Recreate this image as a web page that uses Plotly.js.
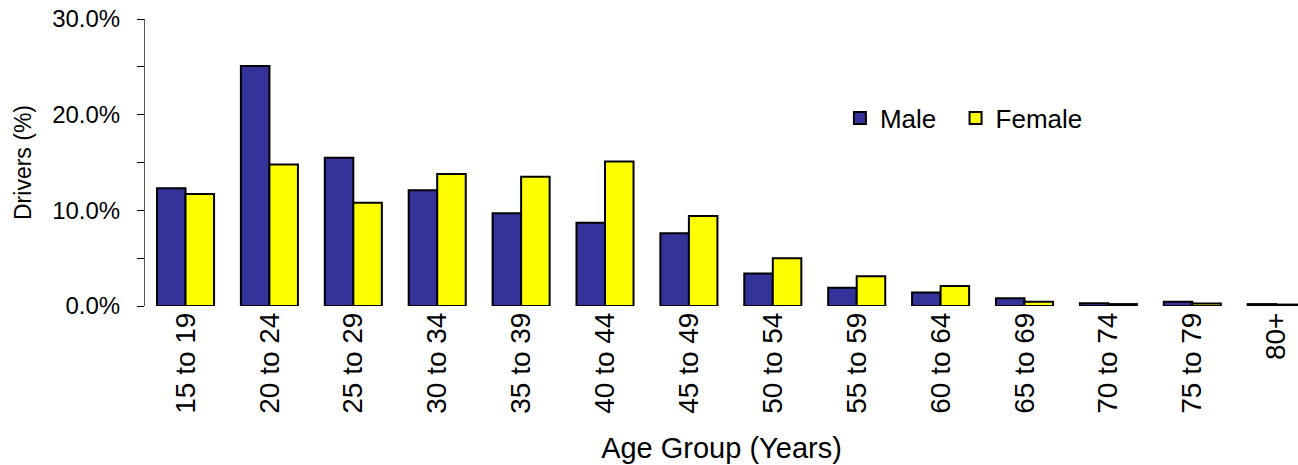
<!DOCTYPE html>
<html><head><meta charset="utf-8">
<script src="https://cdn.plot.ly/plotly-3.0.1.min.js"></script>
<style>html,body{margin:0;padding:0;background:#fff}#chart{width:1298px;height:465px}</style>
</head><body><div id="chart"></div>
<script>
var categories = ["15 to 19","20 to 24","25 to 29","30 to 34","35 to 39","40 to 44","45 to 49","50 to 54","55 to 59","60 to 64","65 to 69","70 to 74","75 to 79","80+"];
var maleValues = [12.3,25.1,15.5,12.1,9.7,8.7,7.6,3.4,1.9,1.4,0.8,0.3,0.45,0.2];
var femaleValues = [11.7,14.8,10.8,13.8,13.5,15.1,9.4,5.0,3.1,2.1,0.45,0.2,0.25,0.15];
var yTickVals = [0,10,20,30];
var yTickText = ["0.0%","10.0%","20.0%","30.0%"];

var font = "Arial, 'Liberation Sans', sans-serif";
var traces = [
  {type:"bar", name:"Male", x:categories, y:maleValues, legend:"legend",
   marker:{color:"#333399", line:{color:"#000000", width:2}}},
  {type:"bar", name:"Female", x:categories, y:femaleValues, legend:"legend2",
   marker:{color:"#ffff00", line:{color:"#000000", width:2}}}
];
var legendBase = {orientation:"h", y:0.655, xanchor:"left", yanchor:"middle",
                  font:{size:26, family:font}, bgcolor:"rgba(0,0,0,0)"};
var layout = {
  width:1298, height:465,
  margin:{l:145, r:0, t:19, b:159},
  paper_bgcolor:"#fff", plot_bgcolor:"#fff",
  font:{family:font, color:"#000", size:20},
  bargap:0.32, bargroupgap:0,
  showlegend:true,
  legend:Object.assign({x:0.6027}, legendBase),
  legend2:Object.assign({x:0.703}, legendBase),
  xaxis:{type:"category", range:[-0.483, 13.26], showline:false, ticks:"", showgrid:false,
         zeroline:false, tickangle:-90, tickfont:{size:28},
         title:{text:"Age Group (Years)", font:{size:29}, standoff:24}},
  yaxis:{range:[0,30], tickvals:yTickVals, ticktext:yTickText, showgrid:false, zeroline:false,
         showline:true, linecolor:"#555", linewidth:1, ticks:"outside", ticklen:7, tickcolor:"#000",
         tickfont:{size:24}, ticklabelstandoff:12,
         minor:{tickvals:[5,15,25], ticks:"outside", ticklen:7, tickcolor:"#000"},
         title:{text:"Drivers (%)", font:{size:23}, standoff:14}}
};
Plotly.newPlot("chart", traces, layout, {displayModeBar:false, staticPlot:true});
</script></body></html>
